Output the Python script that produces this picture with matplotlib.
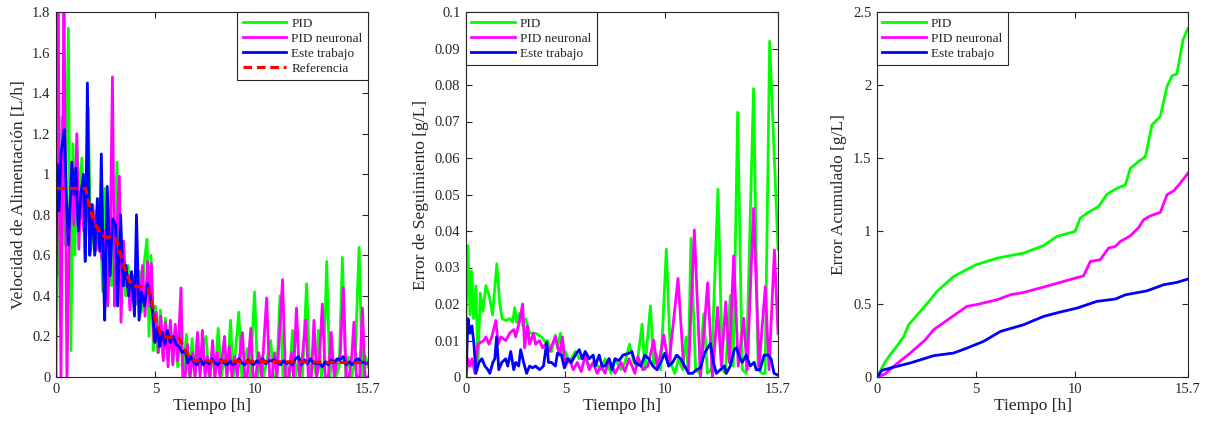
import matplotlib
matplotlib.use("Agg")
import matplotlib.pyplot as plt
from matplotlib.ticker import FuncFormatter

plt.rcParams['font.family'] = ['Liberation Serif', 'DejaVu Serif']

# ---------------- Panel 1: Velocidad de Alimentacion [L/h] ----------------
vel_pid_t = [0.00,0.12,0.22,0.30,0.45,0.62,0.75,0.85,0.95,1.05,1.20,1.30,1.45,1.62,1.75,1.90,2.05,2.20,2.35,2.45,2.55,2.65,2.80,2.95,3.07,3.20,3.35,3.50,3.62,3.75,3.90,4.05,4.20,4.30,4.42,4.58,4.68,4.78,4.90,5.00,5.12,5.25,5.38,5.50,5.62,5.75,5.88,6.00,6.12,6.25,6.40,6.56,6.72,6.85,7.00,7.10,7.25,7.40,7.55,7.70,7.85,8.00,8.16,8.32,8.48,8.62,8.78,8.92,9.05,9.20,9.35,9.48,9.62,9.78,9.99,10.15,10.30,10.45,10.60,10.80,10.95,11.10,11.27,11.42,11.58,11.75,11.90,12.05,12.22,12.40,12.61,12.78,12.95,13.10,13.20,13.35,13.48,13.62,13.78,13.92,14.08,14.25,14.41,14.58,14.72,14.88,15.05,15.25,15.42,15.58,15.70]
vel_pid = [0.30,0.95,0.25,1.28,0.65,1.72,0.13,1.15,0.60,1.14,0.88,1.08,0.57,1.33,0.62,0.82,0.63,0.88,0.42,0.93,0.52,0.83,0.45,0.75,1.06,0.48,0.65,0.40,0.55,0.38,0.50,0.36,0.52,0.32,0.55,0.68,0.20,0.60,0.13,0.35,0.12,0.33,0.10,0.29,0.09,0.27,0.08,0.25,0.05,0.22,0.02,0.21,0.00,0.19,0.00,0.19,0.02,0.15,0.20,0.00,0.12,0.00,0.24,0.00,0.10,0.00,0.28,0.00,0.15,0.32,0.00,0.08,0.14,0.00,0.42,0.00,0.10,0.00,0.08,0.18,0.00,0.00,0.40,0.00,0.06,0.00,0.23,0.00,0.10,0.00,0.46,0.00,0.08,0.00,0.23,0.00,0.05,0.57,0.00,0.10,0.00,0.05,0.59,0.00,0.10,0.00,0.08,0.64,0.00,0.10,0.05]

vel_nn_t = [0.00,0.10,0.25,0.40,0.55,0.65,0.80,0.90,1.05,1.15,1.25,1.40,1.55,1.70,1.85,2.00,2.15,2.30,2.45,2.60,2.72,2.84,2.95,3.05,3.19,3.27,3.40,3.52,3.62,3.72,3.85,3.97,4.10,4.22,4.35,4.48,4.60,4.72,4.80,4.92,5.05,5.15,5.28,5.40,5.52,5.64,5.76,5.88,6.00,6.12,6.29,6.38,6.50,6.62,6.75,6.88,7.00,7.12,7.25,7.37,7.50,7.62,7.75,7.88,8.00,8.12,8.25,8.48,8.60,8.72,8.85,9.00,9.12,9.38,9.50,9.62,9.80,9.92,10.05,10.20,10.35,10.60,10.75,10.88,11.00,11.12,11.40,11.55,11.70,11.85,11.95,12.10,12.25,12.40,12.56,12.70,12.85,12.98,13.12,13.25,13.40,13.55,13.70,13.85,14.00,14.15,14.30,14.46,14.60,14.75,14.88,14.99,15.12,15.28,15.42,15.55,15.70]
vel_nn = [0.00,1.90,0.00,1.90,0.00,0.60,1.05,0.75,1.20,0.63,0.92,0.72,0.98,0.62,0.85,0.62,0.80,0.58,0.72,0.35,0.60,1.48,0.35,0.70,0.99,0.27,0.67,0.45,0.50,0.33,0.50,0.35,0.52,0.30,0.55,0.30,0.57,0.35,0.56,0.18,0.32,0.12,0.30,0.08,0.27,0.05,0.28,0.06,0.26,0.08,0.44,0.00,0.00,0.16,0.00,0.12,0.00,0.22,0.00,0.23,0.00,0.10,0.00,0.18,0.00,0.12,0.00,0.20,0.00,0.15,0.00,0.10,0.00,0.22,0.00,0.00,0.24,0.00,0.00,0.12,0.00,0.39,0.00,0.00,0.12,0.00,0.48,0.00,0.00,0.12,0.00,0.34,0.00,0.10,0.28,0.00,0.00,0.28,0.00,0.08,0.36,0.00,0.00,0.22,0.00,0.08,0.10,0.44,0.00,0.00,0.10,0.27,0.00,0.00,0.34,0.00,0.00]

vel_est_t = [0.00,0.05,0.15,0.25,0.42,0.52,0.62,0.80,0.90,1.00,1.12,1.25,1.38,1.48,1.58,1.70,1.80,1.95,2.08,2.20,2.28,2.38,2.45,2.58,2.72,2.85,3.00,3.10,3.25,3.38,3.52,3.65,3.80,3.95,4.05,4.18,4.30,4.45,4.60,4.75,4.88,4.98,5.10,5.22,5.35,5.48,5.60,5.75,5.90,6.05,6.20,6.35,6.50,6.62,6.78,6.95,7.10,7.25,7.40,7.55,7.70,7.85,8.00,8.15,8.30,8.45,8.60,8.75,8.90,9.05,9.20,9.35,9.50,9.65,9.80,9.95,10.10,10.25,10.40,10.55,10.70,10.85,11.00,11.15,11.30,11.45,11.60,11.75,11.90,12.05,12.20,12.35,12.50,12.65,12.80,12.95,13.10,13.25,13.40,13.55,13.70,13.85,14.00,14.15,14.30,14.45,14.60,14.75,14.90,15.05,15.20,15.35,15.50,15.70]
vel_est = [0.50,1.05,0.82,1.10,1.22,0.90,0.65,1.06,0.90,1.03,0.72,0.90,1.00,0.57,1.45,0.60,0.85,0.60,0.88,0.62,1.10,0.55,0.28,0.94,0.50,0.78,0.75,0.35,0.80,0.45,0.55,0.40,0.52,0.30,0.80,0.28,0.42,0.35,0.46,0.40,0.30,0.17,0.24,0.15,0.22,0.16,0.23,0.17,0.20,0.16,0.15,0.12,0.13,0.07,0.10,0.07,0.06,0.09,0.06,0.08,0.065,0.09,0.07,0.06,0.085,0.07,0.06,0.08,0.06,0.07,0.09,0.07,0.06,0.085,0.07,0.06,0.08,0.07,0.09,0.065,0.08,0.08,0.085,0.07,0.06,0.08,0.065,0.075,0.06,0.09,0.10,0.06,0.085,0.065,0.09,0.07,0.065,0.07,0.05,0.075,0.06,0.085,0.07,0.09,0.085,0.10,0.06,0.075,0.06,0.08,0.09,0.075,0.07,0.065]

vel_ref_t = [0.0,1.5,1.7,2.0,2.3,2.5,3.0,3.2,3.5,3.8,4.6,4.8,5.0,5.3,6.2,6.4,6.7,7.0,15.7]
vel_ref = [0.93,0.93,0.83,0.75,0.70,0.69,0.69,0.62,0.52,0.45,0.44,0.38,0.28,0.20,0.19,0.15,0.10,0.08,0.07]

# ---------------- Panel 2: Error de Seguimiento [g/L] ----------------
err_pid_t = [0.00,0.10,0.20,0.28,0.38,0.50,0.60,0.72,0.85,1.00,1.18,1.34,1.55,1.70,1.82,2.00,2.20,2.35,2.45,2.55,2.70,2.85,3.00,3.20,3.50,3.80,4.00,4.10,4.30,4.50,4.60,4.75,4.85,5.00,5.20,5.50,5.70,6.00,6.20,6.50,6.80,7.00,7.30,7.50,7.80,8.00,8.23,8.45,8.60,8.86,9.00,9.28,9.45,9.60,9.80,10.08,10.30,10.50,10.70,10.90,11.07,11.18,11.32,11.55,11.75,11.96,12.15,12.35,12.68,12.90,13.05,13.30,13.45,13.67,13.90,14.10,14.47,14.70,14.90,15.05,15.28,15.70]
err_pid = [0.016,0.036,0.017,0.029,0.016,0.025,0.003,0.023,0.018,0.025,0.022,0.017,0.031,0.020,0.016,0.0155,0.016,0.015,0.019,0.015,0.0175,0.014,0.016,0.012,0.012,0.011,0.0095,0.010,0.007,0.0115,0.008,0.012,0.006,0.007,0.004,0.007,0.005,0.006,0.003,0.004,0.002,0.005,0.001,0.005,0.002,0.004,0.009,0.004,0.003,0.0145,0.002,0.0195,0.003,0.006,0.002,0.035,0.004,0.001,0.005,0.002,0.011,0.001,0.038,0.002,0.001,0.0173,0.001,0.002,0.0514,0.002,0.001,0.0223,0.003,0.0725,0.002,0.001,0.079,0.002,0.001,0.001,0.092,0.035]

err_nn_t = [0.00,0.10,0.20,0.30,0.45,0.60,0.75,0.90,1.00,1.15,1.30,1.50,1.62,1.75,2.00,2.20,2.40,2.50,2.70,2.85,2.95,3.10,3.20,3.40,3.50,3.70,3.85,4.00,4.20,4.50,4.70,4.85,5.00,5.20,5.40,5.60,5.80,6.00,6.20,6.40,6.60,6.80,7.00,7.20,7.50,7.80,8.00,8.20,8.50,8.65,8.90,9.15,9.44,9.65,9.95,10.20,10.67,10.95,11.20,11.49,11.80,12.16,12.40,12.66,12.85,13.07,13.25,13.47,13.70,13.97,14.15,14.47,14.75,15.06,15.25,15.52,15.70]
err_nn = [0.000,0.005,0.003,0.005,0.001,0.009,0.0095,0.010,0.011,0.009,0.011,0.0155,0.009,0.011,0.010,0.012,0.013,0.011,0.0155,0.020,0.008,0.014,0.009,0.012,0.009,0.010,0.008,0.009,0.007,0.011,0.006,0.011,0.003,0.005,0.002,0.004,0.0015,0.006,0.002,0.004,0.001,0.003,0.001,0.005,0.001,0.004,0.0015,0.005,0.001,0.0055,0.002,0.003,0.0101,0.002,0.0115,0.003,0.027,0.003,0.002,0.0403,0.000,0.0258,0.000,0.0191,0.003,0.0206,0.004,0.0332,0.003,0.0161,0.002,0.0462,0.003,0.0247,0.002,0.0348,0.012]

err_est_t = [0.00,0.10,0.20,0.30,0.40,0.50,0.65,0.80,0.95,1.10,1.20,1.35,1.45,1.54,1.65,1.80,2.00,2.10,2.25,2.40,2.50,2.65,2.75,2.90,3.05,3.20,3.35,3.50,3.70,3.90,4.06,4.15,4.30,4.50,4.60,4.80,4.95,5.10,5.30,5.50,5.70,5.85,6.00,6.20,6.40,6.50,6.70,6.85,7.00,7.20,7.35,7.50,7.70,7.90,8.20,8.35,8.50,8.80,9.00,9.20,9.40,9.60,9.80,10.00,10.20,10.40,10.60,10.80,11.00,11.20,11.40,11.60,11.80,12.00,12.30,12.45,12.60,12.80,13.00,13.10,13.30,13.50,13.60,13.80,13.90,14.10,14.30,14.50,14.60,14.80,15.00,15.20,15.35,15.50,15.70]
err_est = [0.000,0.016,0.012,0.014,0.009,0.001,0.004,0.005,0.003,0.002,0.001,0.004,0.005,0.011,0.002,0.004,0.005,0.003,0.007,0.002,0.004,0.003,0.0075,0.004,0.001,0.003,0.0025,0.003,0.002,0.003,0.0095,0.004,0.004,0.003,0.0065,0.006,0.0025,0.005,0.004,0.006,0.0075,0.005,0.007,0.005,0.006,0.003,0.006,0.003,0.003,0.005,0.002,0.005,0.0045,0.006,0.0065,0.007,0.004,0.003,0.006,0.005,0.003,0.002,0.004,0.0065,0.003,0.004,0.006,0.005,0.003,0.001,0.001,0.002,0.0025,0.0065,0.0092,0.004,0.001,0.002,0.003,0.001,0.003,0.0075,0.008,0.005,0.004,0.006,0.003,0.004,0.002,0.002,0.006,0.006,0.005,0.001,0.0005]

# ---------------- Panel 3: Error Acumulado [g/L] ----------------
acc_pid_t = [0.0,0.40,0.67,1.00,1.35,1.60,2.00,2.52,3.03,3.87,5.00,6.06,7.40,8.41,9.09,10.00,10.26,10.60,11.19,11.61,12.12,12.54,12.79,13.21,13.55,13.88,14.30,14.64,14.89,15.14,15.45,15.70]
acc_pid = [0.0,0.100,0.153,0.210,0.278,0.358,0.420,0.502,0.586,0.689,0.769,0.814,0.849,0.900,0.963,0.997,1.088,1.122,1.168,1.252,1.293,1.316,1.430,1.476,1.510,1.727,1.784,1.989,2.062,2.076,2.310,2.388]

acc_nn_t = [0.0,0.40,0.84,1.68,2.44,2.86,3.70,4.54,5.00,6.06,6.73,7.40,8.41,9.25,10.00,10.43,10.77,11.27,11.69,12.03,12.28,12.79,13.21,13.46,13.80,14.30,14.64,14.98,15.31,15.70]
acc_nn = [0.0,0.020,0.073,0.164,0.255,0.324,0.404,0.484,0.495,0.529,0.563,0.579,0.616,0.648,0.677,0.693,0.791,0.803,0.883,0.894,0.928,0.967,1.024,1.077,1.104,1.127,1.248,1.275,1.328,1.396]

acc_est_t = [0.0,0.25,1.00,1.68,2.86,3.87,4.54,5.38,6.23,7.40,8.41,9.25,10.10,11.10,12.03,12.54,13.63,14.47,15.14,15.70]
acc_est = [0.0,0.046,0.073,0.096,0.146,0.164,0.198,0.244,0.312,0.358,0.415,0.445,0.472,0.518,0.534,0.563,0.590,0.632,0.648,0.671]

labels = ['PID', 'PID neuronal', 'Este trabajo', 'Referencia']
xticks = [0, 5, 10, 15.7]

GREEN, MAG, BLUE, RED = '#00ff00', '#ff00ff', '#0000ff', '#ff0000'
DARK = '#262626'
LW = 2.0

fig = plt.figure(figsize=(12.05, 4.24), dpi=100)
W, H = 1205, 424
def axes_px(x0, x1, y0, y1):
    return fig.add_axes([x0 / W, 1 - y1 / H, (x1 - x0) / W, (y1 - y0) / H])

ax1 = axes_px(56, 368, 12, 377)
ax2 = axes_px(466, 778, 12, 377)
ax3 = axes_px(877, 1188, 12, 377)

fmt = FuncFormatter(lambda v, p: ('%g' % round(v, 6)))

def style(ax, ymax, ystep, ylabel):
    ax.set_xlim(0, 15.7)
    ax.set_ylim(0, ymax)
    ax.set_xticks(xticks)
    n = int(round(ymax / ystep))
    ax.set_yticks([i * ystep for i in range(n + 1)])
    ax.xaxis.set_major_formatter(fmt)
    ax.yaxis.set_major_formatter(fmt)
    ax.tick_params(direction='in', length=4, width=0.8, top=True, right=True,
                   labelsize=10.5, colors=DARK, pad=4)
    for s in ax.spines.values():
        s.set_color(DARK)
        s.set_linewidth(0.8)
    ax.set_xlabel('Tiempo [h]', fontsize=12.5, color=DARK, labelpad=2)
    ax.set_ylabel(ylabel, fontsize=12.5, color=DARK, labelpad=4)

def legend(ax, loc):
    leg = ax.legend(loc=loc, fontsize=9.5, handlelength=3.3, handletextpad=0.4,
                    labelspacing=0.22, borderaxespad=0, fancybox=False,
                    framealpha=1, edgecolor=DARK, borderpad=0.4)
    leg.get_frame().set_linewidth(0.8)
    for t in leg.get_texts():
        t.set_color(DARK)

# Panel 1
ax1.plot(vel_pid_t, vel_pid, color=GREEN, lw=LW, label=labels[0])
ax1.plot(vel_nn_t, vel_nn, color=MAG, lw=LW, label=labels[1])
ax1.plot(vel_est_t, vel_est, color=BLUE, lw=LW, label=labels[2])
ax1.plot(vel_ref_t, vel_ref, color=RED, lw=2.3, ls=(0, (2.7, 1.5)), label=labels[3])
style(ax1, 1.8, 0.2, 'Velocidad de Alimentación [L/h]')
legend(ax1, 'upper right')

# Panel 2
ax2.plot(err_pid_t, err_pid, color=GREEN, lw=LW, label=labels[0])
ax2.plot(err_nn_t, err_nn, color=MAG, lw=LW, label=labels[1])
ax2.plot(err_est_t, err_est, color=BLUE, lw=LW, label=labels[2])
style(ax2, 0.1, 0.01, 'Error de Seguimiento [g/L]')
legend(ax2, 'upper left')

# Panel 3
ax3.plot(acc_pid_t, acc_pid, color=GREEN, lw=LW, label=labels[0])
ax3.plot(acc_nn_t, acc_nn, color=MAG, lw=LW, label=labels[1])
ax3.plot(acc_est_t, acc_est, color=BLUE, lw=LW, label=labels[2])
style(ax3, 2.5, 0.5, 'Error Acumulado [g/L]')
legend(ax3, 'upper left')

fig.savefig('out.png', dpi=100)
